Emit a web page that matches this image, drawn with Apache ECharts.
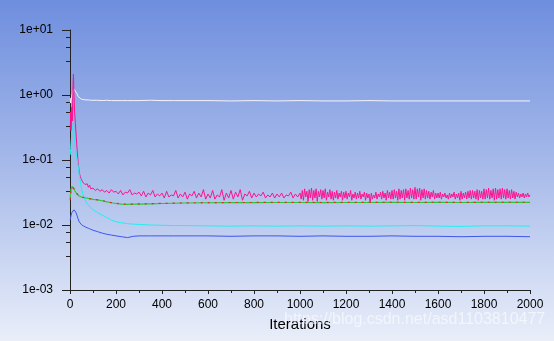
<!DOCTYPE html>
<html>
<head>
<meta charset="utf-8">
<script src="https://cdn.jsdelivr.net/npm/echarts@6/dist/echarts.min.js"></script>
<style>
html,body{margin:0;padding:0;width:554px;height:341px;overflow:hidden;}
#chart{width:554px;height:341px;}
</style>
</head>
<body>
<div id="chart"></div>
<script>
// ---- data ----
const xTickLabels = ['0','200','400','600','800','1000','1200','1400','1600','1800','2000'];
const yTickLabels = ['1e-03','1e-02','1e-01','1e+00','1e+01'];
const yMinorMantissas = [7.7, 5.5, 3.3];
const yDecades = [-3, -2, -1, 0];

const iters = [1,3,5,8,10,13,15,17,20,25,30,35,40,50,60,70,80,90,100,120,140,160,180,200,225,250,275,300,350,400,450,500,600,700,800,900,1000,1100,1200,1300,1400,1500,1600,1700,1800,1900,2000];

const continuity = [0.9,0.75,0.85,0.95,1.05,1.15,1.2,1.24,1.26,1.2,1.05,0.95,0.9,0.86,0.85,0.84,0.84,0.83,0.83,0.83,0.82,0.83,0.82,0.82,0.82,0.82,0.82,0.82,0.83,0.82,0.82,0.82,0.82,0.81,0.82,0.81,0.82,0.81,0.81,0.82,0.81,0.81,0.81,0.81,0.81,0.81,0.81];

const xVelocity = [0.024,0.031,0.035,0.038,0.039,0.040,0.038,0.036,0.034,0.032,0.030,0.029,0.028,0.027,0.0265,0.026,0.0257,0.0252,0.0249,0.0244,0.0238,0.0228,0.0221,0.0215,0.0211,0.0209,0.021,0.0211,0.0213,0.0215,0.0217,0.0219,0.0221,0.0222,0.0222,0.0223,0.0223,0.0222,0.0223,0.0223,0.0224,0.0223,0.0224,0.0223,0.0224,0.0224,0.0224];

const yVelocity = [0.026,0.032,0.036,0.039,0.040,0.041,0.039,0.037,0.034,0.032,0.030,0.029,0.028,0.027,0.0264,0.026,0.0256,0.0252,0.0248,0.0243,0.0236,0.0227,0.022,0.0214,0.021,0.0208,0.0209,0.021,0.0212,0.0214,0.0216,0.0218,0.022,0.0221,0.0221,0.0222,0.0222,0.0221,0.0222,0.0222,0.0223,0.0222,0.0223,0.0222,0.0223,0.0223,0.0223];

const cyanRes = [0.12,0.15,0.19,0.26,0.3,0.34,0.31,0.26,0.2,0.14,0.105,0.085,0.06,0.036,0.027,0.0225,0.0202,0.0185,0.0172,0.0155,0.0142,0.013,0.0119,0.0112,0.0108,0.0105,0.0103,0.0102,0.0100,0.0099,0.0098,0.0098,0.0097,0.0096,0.0097,0.0096,0.0097,0.0096,0.0097,0.0096,0.0097,0.0098,0.0096,0.0095,0.0097,0.0097,0.0096];

const blueRes = [0.012,0.0132,0.0143,0.0155,0.016,0.0166,0.0169,0.0171,0.017,0.0158,0.0142,0.0125,0.0112,0.0101,0.0096,0.0092,0.0089,0.0086,0.0083,0.0079,0.0075,0.0072,0.007,0.0068,0.0066,0.0064,0.0067,0.0068,0.0068,0.0068,0.0068,0.0068,0.0068,0.0067,0.0068,0.0068,0.0067,0.0068,0.0067,0.0067,0.0068,0.0067,0.0067,0.0066,0.0067,0.0067,0.0066];

const pinkEarlyIters = [1,3,5,8,10,13,15,17,20,25,30,35,40,45,50,55,60,65,70,75,80,85,90,95];
const pinkEarly = [0.3,0.55,0.28,0.65,0.4,1.4,2.1,1.1,0.55,0.3,0.16,0.095,0.065,0.055,0.05,0.046,0.049,0.042,0.04,0.043,0.038,0.041,0.036,0.038];
// every 10 iterations from 100 to 990
const pinkMid = [
0.037,0.034,0.036,0.033,0.035,0.032,0.034,0.031,0.035,0.032,
0.033,0.030,0.034,0.029,0.032,0.031,0.035,0.029,0.031,0.030,
0.032,0.028,0.033,0.027,0.031,0.029,0.034,0.027,0.030,0.028,
0.031,0.026,0.033,0.027,0.029,0.028,0.034,0.026,0.030,0.027,
0.032,0.025,0.030,0.028,0.033,0.026,0.031,0.027,0.035,0.025,
0.030,0.026,0.034,0.025,0.029,0.027,0.035,0.024,0.031,0.026,
0.034,0.025,0.032,0.027,0.035,0.024,0.030,0.028,0.033,0.026,
0.031,0.027,0.030,0.028,0.032,0.026,0.029,0.027,0.031,0.026,
0.030,0.027,0.031,0.026,0.029,0.028,0.032,0.026,0.030,0.027];
const pinkMidStart = 100, pinkMidStep = 10;
// every 5 iterations from 1000 to 2000
const pinkLate = [
0.031,0.025,0.034,0.024,0.036,0.027,0.033,0.023,0.035,0.026,
0.037,0.024,0.034,0.026,0.036,0.023,0.033,0.027,0.035,0.025,
0.034,0.026,0.036,0.024,0.032,0.027,0.035,0.025,0.033,0.024,
0.032,0.026,0.034,0.025,0.031,0.027,0.033,0.024,0.032,0.026,
0.033,0.025,0.031,0.027,0.034,0.024,0.030,0.026,0.032,0.025,
0.031,0.026,0.033,0.025,0.030,0.027,0.032,0.024,0.031,0.026,
0.030,0.022,0.031,0.025,0.029,0.026,0.032,0.025,0.030,0.027,
0.032,0.025,0.033,0.026,0.031,0.024,0.034,0.026,0.032,0.025,
0.034,0.025,0.035,0.026,0.033,0.024,0.036,0.025,0.034,0.026,
0.035,0.024,0.036,0.026,0.034,0.025,0.037,0.026,0.035,0.025,
0.038,0.025,0.036,0.027,0.037,0.024,0.035,0.026,0.036,0.025,
0.034,0.026,0.033,0.025,0.032,0.027,0.034,0.025,0.031,0.026,
0.031,0.026,0.032,0.025,0.030,0.027,0.031,0.026,0.029,0.025,
0.031,0.026,0.030,0.027,0.032,0.025,0.030,0.026,0.031,0.024,
0.033,0.025,0.031,0.026,0.032,0.025,0.033,0.026,0.034,0.025,
0.034,0.026,0.033,0.025,0.035,0.024,0.034,0.026,0.033,0.025,
0.036,0.025,0.035,0.026,0.037,0.025,0.034,0.026,0.036,0.024,
0.037,0.025,0.035,0.026,0.036,0.025,0.037,0.026,0.035,0.025,
0.036,0.026,0.034,0.025,0.035,0.026,0.033,0.025,0.032,0.027,
0.031,0.026,0.030,0.027,0.031,0.026,0.030,0.027,0.031,0.027,
0.029];
const pinkLateStart = 1000, pinkLateStep = 5;

const xAxisName = 'Iterations';
const watermark = 'https://blog.csdn.net/asd1103810477';

// ---- build ----
function pairs(xs, ys){ return ys.map((v,i)=>[xs[i], v]); }
const pinkData = pairs(pinkEarlyIters, pinkEarly)
  .concat(pinkMid.map((v,i)=>[pinkMidStart + i*pinkMidStep, v]))
  .concat(pinkLate.map((v,i)=>[pinkLateStart + i*pinkLateStep, v]));
const minorTickData = [];
yDecades.forEach(d => yMinorMantissas.forEach(m => minorTickData.push([0, m*Math.pow(10,d)])));

const FONT = '"Liberation Sans", Arial, sans-serif';
const chart = echarts.init(document.getElementById('chart'), null, {renderer:'canvas'});

function lineSeries(name, data, color, extra){
  return Object.assign({
    name, type:'line', data, showSymbol:false, symbol:'none', silent:true,
    lineStyle:{color, width:1}, z:3
  }, extra||{});
}

chart.setOption({
  animation:false,
  backgroundColor: new echarts.graphic.LinearGradient(0,0,0,1,[
    {offset:0, color:'#6e8ede'},
    {offset:0.5, color:'#a8bbea'},
    {offset:1, color:'#e9eef9'}
  ]),
  grid:{left:70, top:30, right:24, bottom:51},
  xAxis:{
    type:'value', min:0, max:2000, interval:200,
    name:xAxisName, nameLocation:'middle', nameGap:27,
    nameTextStyle:{color:'#000', fontSize:15, fontFamily:FONT},
    axisLine:{show:true, lineStyle:{color:'#222', width:1}},
    axisTick:{show:true, length:4, lineStyle:{color:'#222'}},
    minorTick:{show:true, splitNumber:2, length:3, lineStyle:{color:'#222'}},
    splitLine:{show:false},
    axisLabel:{color:'#000', fontSize:12, fontFamily:FONT, margin:9,
      formatter:(v)=>{ const i = Math.round(v/200); return xTickLabels[i] ?? ''; }}
  },
  yAxis:{
    type:'log', logBase:10, min:0.001, max:10,
    axisLine:{show:true, lineStyle:{color:'#222', width:1}},
    axisTick:{show:true, length:8, lineStyle:{color:'#222'}},
    splitLine:{show:false},
    axisLabel:{color:'#000', fontSize:12, fontFamily:FONT, margin:17,
      formatter:(v)=>{ const e = Math.round(Math.log10(v)); return yTickLabels[e+3] ?? ''; }}
  },
  graphic:[{
    type:'text', left:284, top:312, silent:true, z:100,
    style:{text:watermark, fill:'rgba(255,255,255,0.6)', font:'16px ' + FONT}
  }],
  series:[
    lineSeries('continuity', pairs(iters, continuity), '#f4f4f8'),
    lineSeries('k', pinkData, '#ff1290'),
    lineSeries('y-velocity', pairs(iters, yVelocity), '#2ec82e', {lineStyle:{color:'#2ec82e', width:1.2}}),
    lineSeries('x-velocity', pairs(iters, xVelocity), '#e02828', {lineStyle:{color:'#e02828', width:1.2, type:[2,5]}, z:4}),
    lineSeries('energy', pairs(iters, cyanRes), '#22f0f0'),
    lineSeries('z-velocity', pairs(iters, blueRes), '#3d55ee'),
    {
      type:'custom', silent:true, clip:false, z:5,
      data:minorTickData,
      encode:{x:0, y:1},
      renderItem:(params, api)=>{
        const p = api.coord([api.value(0), api.value(1)]);
        const y = Math.round(p[1]) + 0.5;
        return {type:'line', shape:{x1:p[0]-4, y1:y, x2:p[0], y2:y}, style:{stroke:'#222', lineWidth:1}};
      }
    }
  ]
});
</script>
</body>
</html>
